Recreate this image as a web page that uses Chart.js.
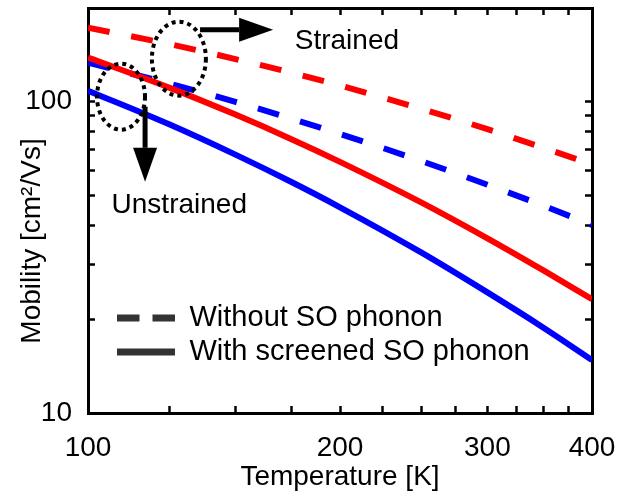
<!DOCTYPE html>
<html>
<head>
<meta charset="utf-8">
<script src="https://cdn.jsdelivr.net/npm/chart.js@4.4.1/dist/chart.umd.min.js"></script>
<style>
  html, body { margin: 0; padding: 0; background: #fff; }
</style>
</head>
<body>
<canvas id="chart" width="626" height="503"></canvas>
<script>
// temperature [K] at which the curves were read
var temperature = [100, 125, 150, 175, 200, 250, 300, 350, 400];

// mobility [cm2/Vs]
var strainedWithSO      = [138.5, 111.0, 90.9, 75.8, 64.1, 47.5, 36.4, 28.7, 23.2];
var unstrainedWithSO    = [108.5, 84.6, 67.6, 55.2, 45.8, 32.8, 24.4, 18.8, 14.8];
var strainedWithoutSO   = [172.9, 153.2, 137.1, 123.9, 112.7, 94.9, 81.6, 71.1, 62.9];
var unstrainedWithoutSO = [133.5, 114.4, 99.9, 88.2, 78.8, 64.5, 54.1, 46.3, 40.2];

var xTicks = [100, 125, 150, 175, 200, 225, 250, 275, 300, 325, 350, 375, 400];
var xTickLabels = [100, 200, 300, 400];
var yTicks = [10, 20, 30, 40, 50, 60, 70, 80, 90, 100, 200];
var yTickLabels = [10, 100];
var legendLabels = ['Without SO phonon', 'With screened SO phonon'];

// callouts, anchored in data coordinates [T, mobility]
var rings = [
  { at: [128.4, 137.5], rx: 27, ry: 37 },
  { at: [109.5, 103.8], rx: 24, ry: 33 }
];
var arrows = [
  { from: [136.1, 170.4], to: [166.4, 170.4] },
  { from: [117.0, 96.4], to: [117.0, 55.3] }
];
var notes = [
  { text: 'Strained', at: [176.6, 148.1] },
  { text: 'Unstrained', at: [106.7, 43.9] }
];

Chart.defaults.font.family = '"Liberation Sans", Arial, sans-serif';
Chart.defaults.color = '#000';

function series(values) {
  return values.map(function (v, i) { return { x: temperature[i], y: v }; });
}
function showOnly(list) {
  return function (v) { return list.indexOf(v) >= 0 ? String(v) : ''; };
}
function setTicks(list) {
  return function (s) { s.ticks = list.map(function (v) { return { value: v }; }); };
}
function fixSize(w, h) {
  return function (s) {
    if (w != null) s.width = w;
    if (h != null) s.height = h;
    s.paddingTop = s.paddingBottom = s.paddingLeft = s.paddingRight = 0;
  };
}

var frame = { color: '#000', width: 3 };
var inward = { drawOnChartArea: false, tickLength: -7, tickWidth: 2.5, tickColor: '#000' };

var callouts = {
  id: 'callouts',
  beforeDraw: function (chart) {
    // legend goes inside the plot, lower left
    var a = chart.chartArea, lg = chart.legend;
    lg.left = a.left + 24;
    lg.top = a.top + 290.5;
    lg.right = chart.width;
    lg.bottom = chart.height;
  },
  afterDatasetsDraw: function (chart) {
    var ctx = chart.ctx, xs = chart.scales.x, ys = chart.scales.y;
    function px(p) { return [xs.getPixelForValue(p[0]), ys.getPixelForValue(p[1])]; }
    ctx.save();
    ctx.strokeStyle = '#000';
    ctx.fillStyle = '#000';

    ctx.lineWidth = 4;
    ctx.setLineDash([4, 4]);
    rings.forEach(function (r) {
      var c = px(r.at);
      ctx.beginPath();
      ctx.ellipse(c[0], c[1], r.rx, r.ry, 0, 0, Math.PI * 2);
      ctx.stroke();
    });

    ctx.setLineDash([]);
    ctx.lineWidth = 5;
    arrows.forEach(function (ar) {
      var a = px(ar.from), b = px(ar.to);
      var ang = Math.atan2(b[1] - a[1], b[0] - a[0]);
      var hl = 34, hw = 12;
      var bx = b[0] - hl * Math.cos(ang), by = b[1] - hl * Math.sin(ang);
      ctx.beginPath();
      ctx.moveTo(a[0], a[1]);
      ctx.lineTo(bx, by);
      ctx.stroke();
      ctx.beginPath();
      ctx.moveTo(b[0], b[1]);
      ctx.lineTo(bx + hw * Math.sin(ang), by - hw * Math.cos(ang));
      ctx.lineTo(bx - hw * Math.sin(ang), by + hw * Math.cos(ang));
      ctx.closePath();
      ctx.fill();
    });

    ctx.font = '28px "Liberation Sans", Arial, sans-serif';
    ctx.textAlign = 'left';
    ctx.textBaseline = 'alphabetic';
    notes.forEach(function (n) {
      var p = px(n.at);
      ctx.fillText(n.text, p[0], p[1]);
    });
    ctx.restore();
  },
  afterDraw: function (chart) {
    // y axis title, set lower than the axis middle as in the original
    var ctx = chart.ctx, a = chart.chartArea;
    ctx.save();
    ctx.translate(a.left - 48, a.bottom - 172);
    ctx.rotate(-Math.PI / 2);
    ctx.font = '28px "Liberation Sans", Arial, sans-serif';
    ctx.fillStyle = '#000';
    ctx.textAlign = 'center';
    ctx.textBaseline = 'alphabetic';
    ctx.fillText('Mobility [cm\u00B2/Vs]', 0, 0);
    ctx.restore();
  }
};

var chart = new Chart(document.getElementById('chart'), {
  type: 'line',
  data: {
    datasets: [
      { label: 'Strained, with screened SO phonon', data: series(strainedWithSO), borderColor: '#ff0000' },
      { label: 'Unstrained, with screened SO phonon', data: series(unstrainedWithSO), borderColor: '#0000ff' },
      { label: 'Strained, without SO phonon', data: series(strainedWithoutSO), borderColor: '#ff0000', borderDash: [22, 22] },
      { label: 'Unstrained, without SO phonon', data: series(unstrainedWithoutSO), borderColor: '#0000ff', borderDash: [22, 22] }
    ]
  },
  options: {
    responsive: false,
    animation: false,
    events: [],
    elements: {
      line: { borderWidth: 6, fill: false, cubicInterpolationMode: 'monotone', borderCapStyle: 'butt' },
      point: { radius: 0 }
    },
    layout: { padding: 0 },
    scales: {
      x: {
        type: 'logarithmic', position: 'bottom', min: 100, max: 400,
        afterBuildTicks: setTicks(xTicks), afterFit: fixSize(null, 90),
        border: frame, grid: inward,
        ticks: { autoSkip: false, maxRotation: 0, padding: 25, font: { size: 28 }, callback: showOnly(xTickLabels) },
        title: { display: true, text: 'Temperature [K]', font: { size: 28 }, padding: { top: 0, bottom: 9 } }
      },
      x2: {
        type: 'logarithmic', position: 'top', min: 100, max: 400,
        afterBuildTicks: setTicks(xTicks), afterFit: fixSize(null, 8),
        border: frame, grid: inward, ticks: { display: false }
      },
      y: {
        type: 'logarithmic', position: 'left', min: 10, max: 200,
        afterBuildTicks: setTicks(yTicks), afterFit: fixSize(88, null),
        border: frame, grid: inward,
        ticks: { autoSkip: false, padding: 23, font: { size: 28 }, callback: showOnly(yTickLabels) }
      },
      y2: {
        type: 'logarithmic', position: 'right', min: 10, max: 200,
        afterBuildTicks: setTicks(yTicks), afterFit: fixSize(34, null),
        border: frame, grid: inward, ticks: { display: false }
      }
    },
    plugins: {
      tooltip: { enabled: false },
      legend: {
        position: 'chartArea',
        align: 'start',
        labels: {
          boxWidth: 58,
          boxHeight: 0,
          padding: 5,
          font: { size: 29 },
          generateLabels: function () {
            return legendLabels.map(function (text, i) {
              return {
                text: text,
                fillStyle: 'rgba(0,0,0,0)',
                strokeStyle: '#333',
                fontColor: '#000',
                lineWidth: 7,
                lineDash: i === 0 ? [45, 13] : [],
                lineDashOffset: i === 0 ? 22.5 : 0,
                lineCap: 'butt',
                lineJoin: 'bevel',
                hidden: false
              };
            });
          }
        }
      }
    }
  },
  plugins: [callouts]
});
</script>
</body>
</html>
